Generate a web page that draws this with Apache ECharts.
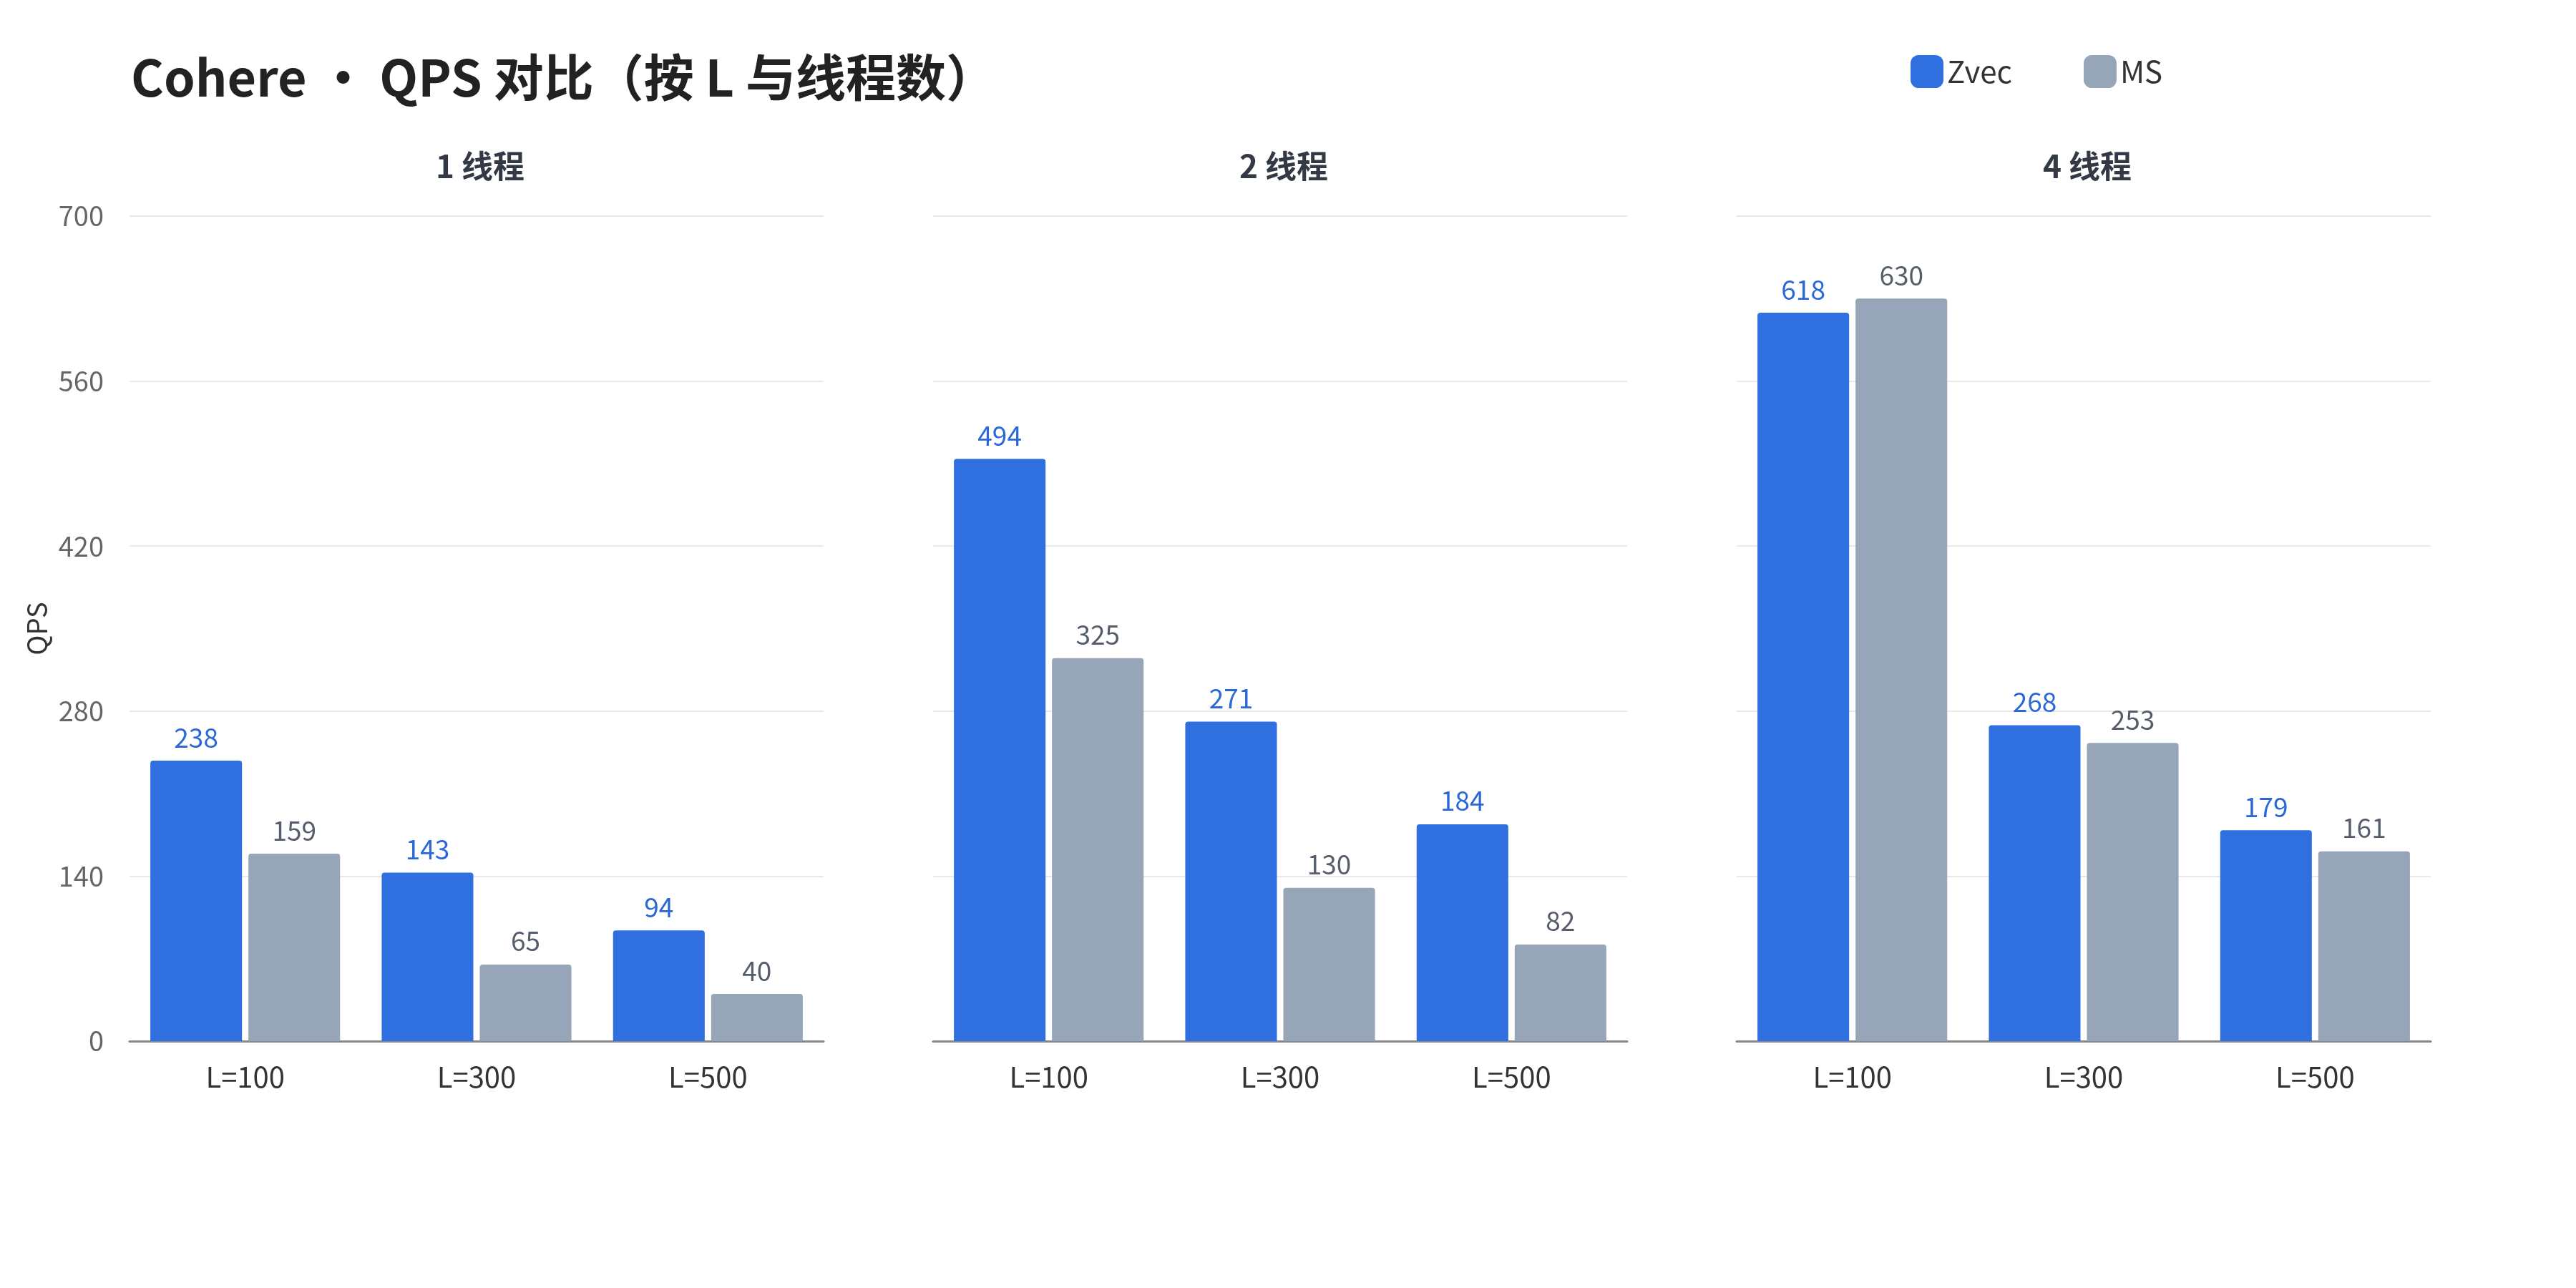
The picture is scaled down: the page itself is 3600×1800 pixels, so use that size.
<!DOCTYPE html>
<html lang="zh">
<head>
<meta charset="UTF-8">
<title>Cohere QPS 对比</title>
<script src="https://cdn.jsdelivr.net/npm/echarts@6/dist/echarts.min.js"></script>
<style>
  html, body { margin: 0; padding: 0; background: #fff; }
  #main { width: 3600px; height: 1800px; }
</style>
</head>
<body>
<div id="main"></div>
<script>
var categories = ['L=100', 'L=300', 'L=500'];
var panels = ['1 线程', '2 线程', '4 线程'];
var zvec = [[238, 143, 94], [494, 271, 184], [618, 268, 179]];
var ms = [[159, 65, 40], [325, 130, 82], [630, 253, 161]];
var yTicks = [0, 140, 280, 420, 560, 700];

var FONT = '"Noto Sans CJK SC", "Noto Sans", sans-serif';
var gridLefts = [181, 1304, 2427];
var gridW = 970;

var myChart = echarts.init(document.getElementById('main'));

var grids = [], xAxes = [], yAxes = [], series = [], titles = [];
titles.push({
    text: 'Cohere · QPS 对比（按 L 与线程数）',
    left: 178, top: 68,
    textStyle: { fontFamily: FONT, fontSize: 70, fontWeight: 'bold', color: '#222' }
});
panels.forEach(function (p, i) {
    grids.push({ left: gridLefts[i], width: gridW, top: 302, bottom: 345 });
    titles.push({
        text: p, left: gridLefts[i] + gridW / 2, top: 205, textAlign: 'center',
        textStyle: { fontFamily: FONT, fontSize: 44, fontWeight: 'bold', color: '#333a45' }
    });
    xAxes.push({
        type: 'category', gridIndex: i, data: categories,
        axisLine: { lineStyle: { color: '#888', width: 3 } },
        axisTick: { show: false },
        axisLabel: { fontFamily: FONT, fontSize: 40, color: '#333', margin: 30 }
    });
    yAxes.push({
        type: 'value', gridIndex: i, min: yTicks[0], max: yTicks[yTicks.length - 1], interval: 140,
        name: i === 0 ? 'QPS' : '', nameLocation: 'middle', nameGap: 110,
        nameTextStyle: { fontFamily: FONT, fontSize: 38, color: '#333' },
        axisLabel: { show: i === 0, fontFamily: FONT, fontSize: 38, color: '#666', margin: 36 },
        splitLine: { lineStyle: { color: '#e8e8e8', width: 2 } },
        axisLine: { show: false }, axisTick: { show: false }
    });
    series.push({
        name: 'Zvec', type: 'bar', xAxisIndex: i, yAxisIndex: i, data: zvec[i],
        barGap: '7%', barCategoryGap: '18%',
        itemStyle: { color: '#306fe0', borderRadius: [4, 4, 0, 0] },
        label: { show: true, position: 'top', distance: 14, fontFamily: FONT, fontSize: 37, color: '#2a67d8' }
    });
    series.push({
        name: 'MS', type: 'bar', xAxisIndex: i, yAxisIndex: i, data: ms[i],
        barGap: '7%', barCategoryGap: '18%',
        itemStyle: { color: '#97a5b9', borderRadius: [4, 4, 0, 0] },
        label: { show: true, position: 'top', distance: 14, fontFamily: FONT, fontSize: 37, color: '#555d6b' }
    });
});

var option = {
    backgroundColor: '#fff',
    animation: false,
    title: titles,
    legend: {
        data: ['Zvec', 'MS'], left: 2665, top: 72,
        itemWidth: 46, itemHeight: 46, itemGap: 100,
        textStyle: { fontFamily: FONT, fontSize: 42, color: '#333' }
    },
    grid: grids, xAxis: xAxes, yAxis: yAxes, series: series
};
myChart.setOption(option);
</script>
</body>
</html>
